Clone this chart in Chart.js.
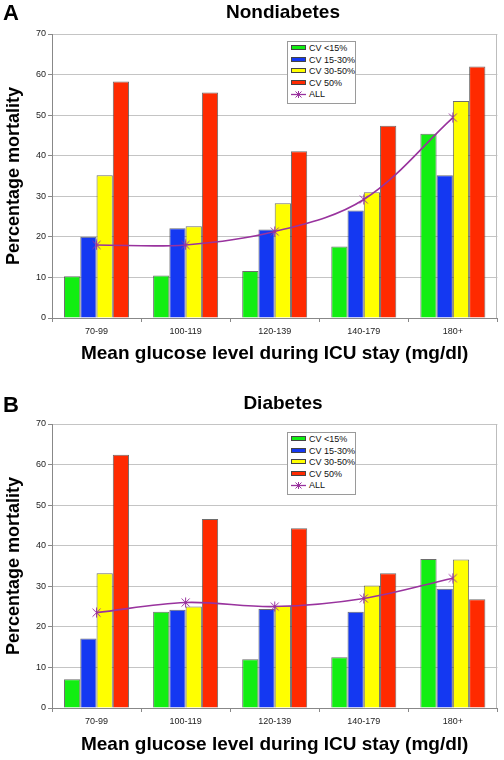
<!DOCTYPE html>
<html>
<head>
<meta charset="utf-8">
<script src="https://cdn.jsdelivr.net/npm/chart.js@4.4.1/dist/chart.umd.min.js"></script>
<style>
  html, body { margin: 0; padding: 0; background: #fff; }
  body { width: 504px; height: 760px; position: relative; overflow: hidden; font-family: "Liberation Sans", Arial, sans-serif; }
  .panel { position: absolute; left: 0; width: 504px; }
  .letter { position: absolute; left: 3px; font-weight: bold; font-size: 22px; line-height: 22px; color: #000; }
  .legend { position: absolute; left: 287px; width: 69px; height: 63px; border: 1px solid #9a9a9a; background: #fff; box-sizing: border-box; font-size: 9px; color: #111; }
  .legend .row { position: absolute; left: 3px; height: 11px; line-height: 11px; white-space: nowrap; }
  .legend .sw { display: inline-block; width: 15px; height: 5px; border: 1px solid #444; box-sizing: border-box; vertical-align: middle; margin-right: 3px; position: relative; top: -1px; }
  .legend .ln { display: inline-block; width: 15px; height: 9px; vertical-align: middle; margin-right: 3px; position: relative; top: -1px; }
</style>
</head>
<body>
<script>
// ---- Data ----
const categories = ['70-99', '100-119', '120-139', '140-179', '180+'];
const seriesNames = ['CV <15%', 'CV 15-30%', 'CV 30-50%', 'CV 50%', 'ALL'];
const yTicks = [0, 10, 20, 30, 40, 50, 60, 70];

// Panel A: Nondiabetes
const nonDiabCVlt15   = [10.3, 10.5, 11.6, 17.6, 45.4];
const nonDiabCV15to30 = [20.0, 22.1, 21.8, 26.5, 35.2];
const nonDiabCV30to50 = [35.2, 22.6, 28.3, 31.0, 53.5];
const nonDiabCV50     = [58.3, 55.6, 41.1, 47.4, 62.0];
const nonDiabAll      = [18.0, 18.0, 21.3, 29.2, 49.4];

// Panel B: Diabetes
const diabCVlt15   = [7.1, 23.7, 12.0, 12.5, 36.7];
const diabCV15to30 = [17.1, 24.2, 24.4, 23.7, 29.4];
const diabCV30to50 = [33.2, 25.0, 25.2, 30.2, 36.6];
const diabCV50     = [62.4, 46.6, 44.3, 33.2, 26.8];
const diabAll      = [23.5, 26.0, 25.0, 27.0, 32.0];

const barColors = ['#12ee12', '#1438f2', '#ffff00', '#ff2a00'];
const lineColor = '#99339e';

const FONT = '"Liberation Sans", Arial, sans-serif';

// marker: an "x" with a vertical stroke
const marker = document.createElement('canvas');
marker.width = 11; marker.height = 11;
(function () {
  const c = marker.getContext('2d');
  c.strokeStyle = lineColor; c.lineWidth = 1;
  c.beginPath();
  c.moveTo(1.5, 1.5); c.lineTo(9.5, 9.5);
  c.moveTo(9.5, 1.5); c.lineTo(1.5, 9.5);
  c.moveTo(5.5, 0.5); c.lineTo(5.5, 10.5);
  c.stroke();
})();

const frame = {
  id: 'frame',
  beforeDatasetsDraw(chart) {
    const a = chart.chartArea, ctx = chart.ctx;
    ctx.save();
    ctx.strokeStyle = '#bdbdbd';
    ctx.lineWidth = 1;
    ctx.beginPath();
    ctx.moveTo(Math.round(a.right) - 0.5, a.top);
    ctx.lineTo(Math.round(a.right) - 0.5, a.bottom);
    ctx.stroke();
    ctx.restore();
  }
};

function makePanel(top, height, padTop, padBottom, xTitlePadBottom, letter, title, titleY, letterY, legendTop, series) {
  const div = document.createElement('div');
  div.className = 'panel';
  div.style.top = top + 'px';
  div.style.height = height + 'px';
  const canvas = document.createElement('canvas');
  canvas.width = 504; canvas.height = height;
  canvas.style.width = '504px'; canvas.style.height = height + 'px';
  div.appendChild(canvas);

  const L = document.createElement('div');
  L.className = 'letter'; L.textContent = letter; L.style.top = letterY + 'px';
  div.appendChild(L);

  const T = document.createElement('div');
  T.textContent = title;
  T.style.cssText = 'position:absolute;left:58px;width:450px;text-align:center;font-weight:bold;font-size:19px;line-height:22px;top:' + titleY + 'px;';
  div.appendChild(T);

  const leg = document.createElement('div');
  leg.className = 'legend'; leg.style.top = legendTop + 'px';
  seriesNames.forEach((n, i) => {
    const r = document.createElement('div');
    r.className = 'row'; r.style.top = (1 + i * 11.6) + 'px';
    if (i < 4) {
      r.innerHTML = '<span class="sw" style="background:' + barColors[i] + '"></span>' + n;
    } else {
      r.innerHTML = '<svg class="ln" viewBox="0 0 15 9"><line x1="0" y1="4.5" x2="15" y2="4.5" stroke="' + lineColor + '" stroke-width="1.3"/>' +
        '<path d="M4.5 1.5 L10.5 7.5 M10.5 1.5 L4.5 7.5 M7.5 1 L7.5 8" stroke="' + lineColor + '" stroke-width="1"/></svg>' + n;
    }
    leg.appendChild(r);
  });
  div.appendChild(leg);
  document.body.appendChild(div);

  const datasets = series.slice(0, 4).map((d, i) => ({
    type: 'bar', label: seriesNames[i], data: d,
    backgroundColor: barColors[i], borderColor: 'rgba(60,60,60,0.75)', borderWidth: 1,
    categoryPercentage: 0.73, barPercentage: 1.0, order: 2
  }));
  datasets.push({
    type: 'line', label: seriesNames[4], data: series[4],
    borderColor: lineColor, backgroundColor: lineColor, borderWidth: 1.6,
    tension: 0.35, pointStyle: marker, pointRadius: 5,
    fill: false, order: 0
  });

  new Chart(canvas, {
    data: { labels: categories, datasets },
    options: {
      responsive: false, animation: false, devicePixelRatio: 1,
      layout: { padding: { top: padTop, right: 2, left: 0, bottom: padBottom } },
      plugins: { legend: { display: false }, tooltip: { enabled: false }, title: { display: false } },
      scales: {
        x: {
          afterFit(s) { s.height = 52; },
          grid: { display: true, drawOnChartArea: false, drawTicks: true, tickLength: 4, offset: true, color: '#888' },
          border: { display: true, color: '#888' },
          ticks: { font: { family: FONT, size: 9 }, color: '#222', maxRotation: 0, autoSkip: false, padding: 4 },
          title: { display: true, text: 'Mean glucose level during ICU stay (mg/dl)', font: { family: FONT, size: 19, weight: 'bold' }, color: '#000', padding: { top: 2, bottom: xTitlePadBottom } }
        },
        y: {
          min: 0, max: 70,
          afterFit(s) { s.width = 52; },
          afterBuildTicks(s) { s.ticks = yTicks.map(v => ({ value: v })); },
          grid: { color: '#c4c4c4', tickLength: 4, tickColor: '#888' },
          border: { display: true, color: '#888' },
          ticks: { font: { family: FONT, size: 9 }, color: '#222', padding: 2 },
          title: { display: true, text: 'Percentage mortality', font: { family: FONT, size: 18, weight: 'bold' }, color: '#000', padding: { top: 3, bottom: 2 } }
        }
      }
    },
    plugins: [frame]
  });
}

// plot area A: y 34..318 ; plot area B: y 424..708
makePanel(0, 380, 34, 10, 5, 'A', 'Nondiabetes', 1, 2, 41,
  [nonDiabCVlt15, nonDiabCV15to30, nonDiabCV30to50, nonDiabCV50, nonDiabAll]);
makePanel(388, 372, 36, 0, 3.5, 'B', 'Diabetes', 4, 6, 44,
  [diabCVlt15, diabCV15to30, diabCV30to50, diabCV50, diabAll]);
</script>
</body>
</html>
